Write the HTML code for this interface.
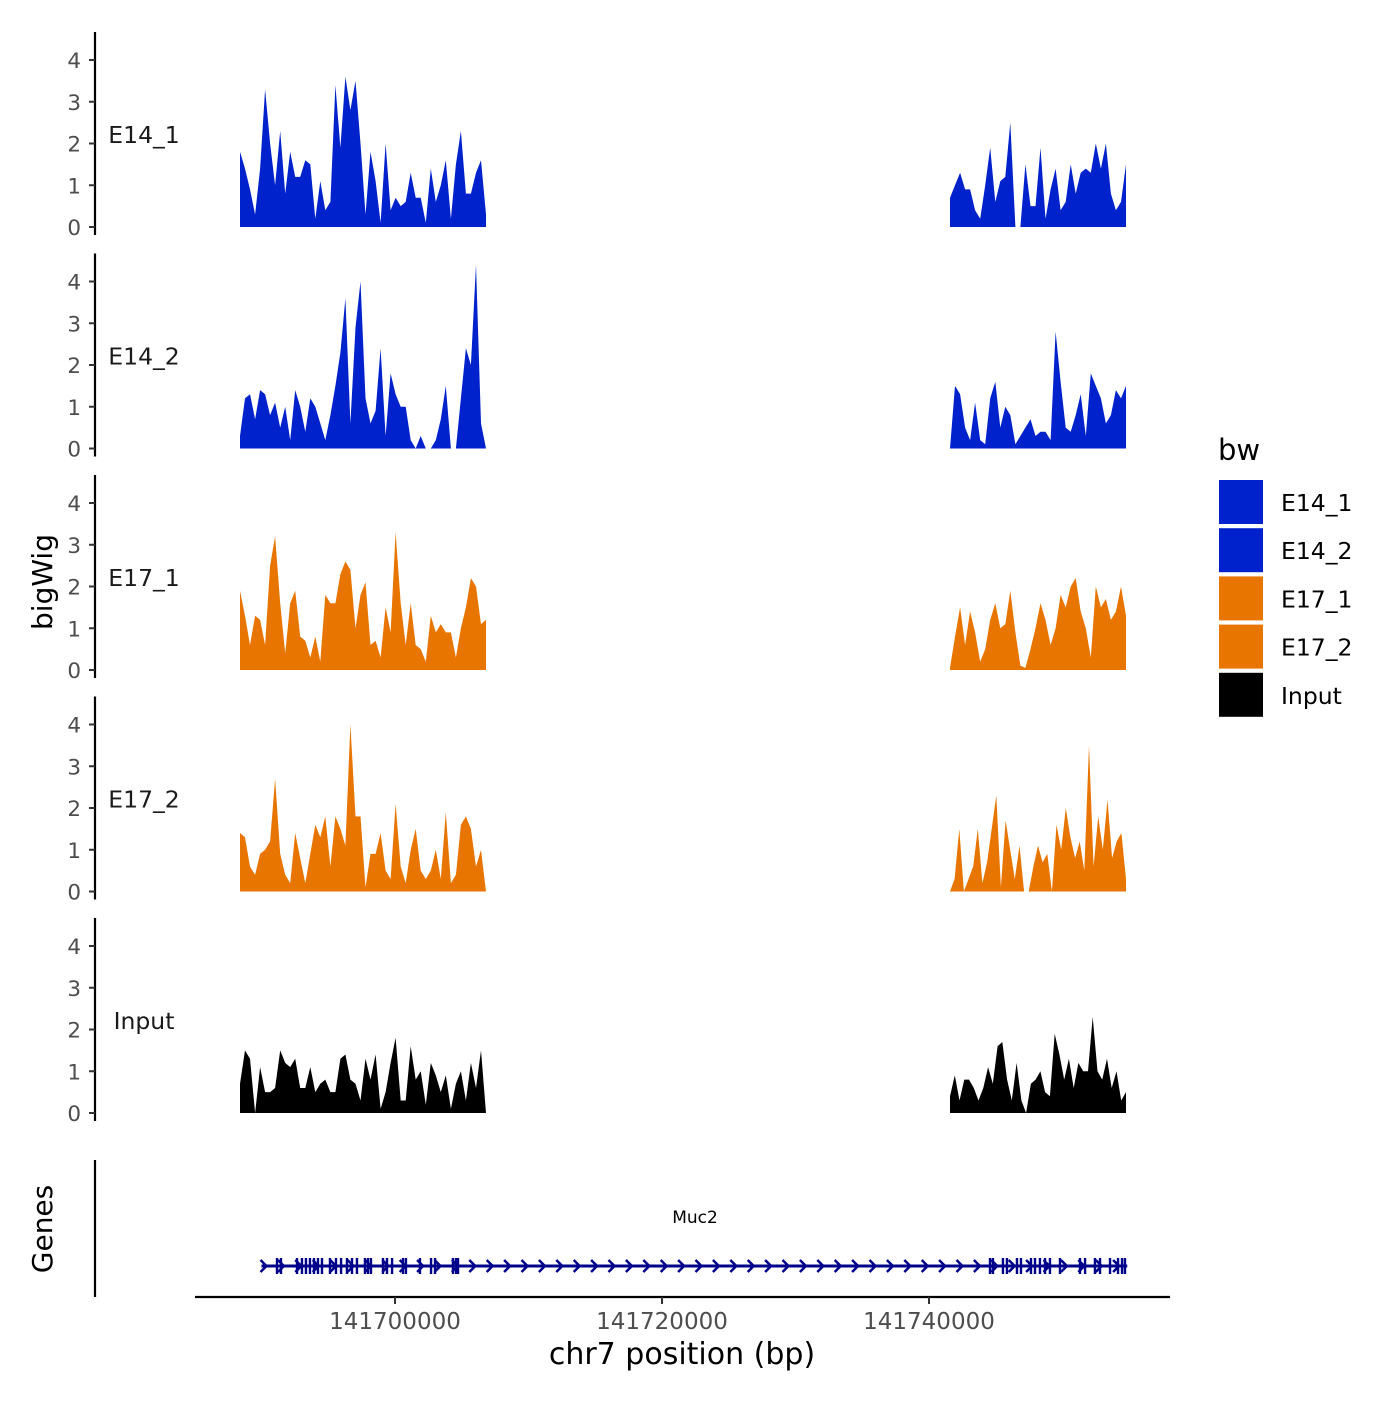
<!DOCTYPE html>
<html><head><meta charset="utf-8"><style>
html,body{margin:0;padding:0;background:#fff;}
svg text{font-family:"DejaVu Sans","Liberation Sans",sans-serif;}
</style></head><body>
<svg id="chart" width="1400" height="1400" xmlns="http://www.w3.org/2000/svg"></svg>
<script>
const trackNames = ["E14_1","E14_2","E17_1","E17_2","Input"];
const trackColors = ["#0022cc","#0022cc","#e87500","#e87500","#000000"];
const leftRange = [141688390, 141706816];
const rightRange = [141741573, 141754757];
const e14_1Left = [1.8,1.4,0.9,0.3,1.4,3.3,2.0,1.0,2.3,0.8,1.8,1.2,1.2,1.6,1.5,0.2,1.1,0.4,0.6,3.4,1.9,3.6,2.8,3.5,2.0,0.3,1.8,1.1,0.1,2.0,0.4,0.7,0.5,0.6,1.3,0.7,0.7,0.1,1.4,0.6,1.0,1.6,0.2,1.5,2.3,0.8,0.8,1.3,1.6,0.3];
const e14_1Right = [0.7,1.0,1.3,0.9,0.9,0.4,0.2,1.0,1.9,0.6,1.1,1.2,2.5,0.0,0.0,1.5,0.5,0.5,1.9,0.2,0.9,1.4,0.4,0.6,1.5,0.8,1.3,1.4,1.3,2.0,1.4,2.0,0.8,0.4,0.6,1.5];
const e14_2Left = [0.3,1.2,1.3,0.7,1.4,1.3,0.8,1.1,0.5,1.0,0.2,1.4,1.0,0.4,1.2,1.0,0.6,0.2,0.8,1.5,2.3,3.6,0.6,2.9,4.0,1.2,0.6,0.9,2.4,0.3,1.8,1.3,1.0,1.0,0.2,0,0.3,0,0,0.2,0.7,1.5,0,0,1.2,2.4,2.0,4.4,0.6,0];
const e14_2Right = [0.0,1.5,1.3,0.5,0.2,1.1,0.2,0.1,1.2,1.6,0.5,1.0,0.8,0.1,0.3,0.5,0.7,0.3,0.4,0.4,0.2,2.8,1.6,0.5,0.4,0.8,1.3,0.3,1.8,1.5,1.2,0.6,0.8,1.4,1.2,1.5];
const e17_1Left = [1.9,1.3,0.6,1.3,1.2,0.6,2.5,3.2,1.6,0.4,1.6,1.9,0.8,0.7,0.3,0.8,0.2,1.8,1.6,1.6,2.3,2.6,2.4,1.0,1.8,2.1,0.6,0.7,0.3,1.5,0.9,3.3,1.6,0.6,1.6,0.6,0.5,0.2,1.3,0.9,1.1,0.9,0.9,0.3,1.0,1.5,2.2,2.0,1.1,1.2];
const e17_1Right = [0.05,0.8,1.5,0.6,1.4,0.9,0.2,0.5,1.2,1.6,1.0,1.1,1.9,0.9,0.1,0.05,0.5,1.0,1.6,1.2,0.6,1.0,1.8,1.5,2.0,2.2,1.4,1.0,0.3,2.0,1.5,1.7,1.2,1.4,2.0,1.3];
const e17_2Left = [1.4,1.3,0.6,0.4,0.9,1.0,1.2,2.7,0.9,0.4,0.2,1.4,0.8,0.2,0.9,1.6,1.3,1.8,0.6,1.8,1.5,1.1,4.0,1.8,1.8,0.1,0.9,0.9,1.4,0.5,0.3,2.1,0.6,0.2,1.0,1.5,0.5,0.3,0.5,1.0,0.3,1.9,0.2,0.4,1.6,1.8,1.5,0.6,1.0,0];
const e17_2Right = [0,0.3,1.5,0,0.3,0.6,1.5,0.2,0.7,1.5,2.3,0.1,1.7,1.0,0.3,1.1,0,0,0.6,1.1,0.7,0.9,0,1.6,1.0,2.0,1.3,0.8,1.2,0.5,3.5,0.6,1.8,1.0,2.2,0.8,1.2,1.4,0.3];
const inputLeft = [0.7,1.5,1.3,0.0,1.1,0.5,0.5,0.6,1.5,1.2,1.1,1.3,0.6,0.6,1.1,0.5,0.7,0.8,0.5,0.5,1.3,1.4,0.8,0.7,0.3,1.3,0.8,1.4,0.1,0.5,1.2,1.8,0.3,0.3,1.6,0.8,1.0,0.2,1.2,0.9,0.5,0.9,0.1,0.7,1.0,0.3,1.2,0.6,1.5,0];
const inputRight = [0.4,0.9,0.3,0.8,0.8,0.6,0.3,0.6,1.1,0.7,1.6,1.7,0.8,0.3,1.2,0.3,0,0.7,0.8,1.0,0.5,0.4,1.9,1.4,0.8,1.3,0.6,1.2,1.0,1.0,2.3,1.0,0.8,1.3,0.6,1.0,0.3,0.5];
const yTicks = [0,1,2,3,4];
const xTicks = [141700000,141720000,141740000];
const geneRange = [141690000, 141754850];
const exonKb = [-8.84,-8.54,-7.34,-6.97,-6.67,-6.37,-6.07,-5.77,-5.47,-4.87,-4.42,-4.04,-3.6,-3.22,-2.85,-2.25,-2.02,-1.8,-0.9,-0.6,-0.22,0.6,0.82,1.87,2.7,3.0,4.34,4.57,4.72,44.57,44.79,45.54,45.84,46.59,46.89,47.64,47.94,48.31,48.69,49.06,49.81,51.31,51.69,52.43,52.81,53.56,54.16,54.46,54.68];

const leftData = [e14_1Left,e14_2Left,e17_1Left,e17_2Left,inputLeft];
const rightData = [e14_1Right,e14_2Right,e17_1Right,e17_2Right,inputRight];

const svg = document.getElementById('chart');
const NS = 'http://www.w3.org/2000/svg';
function mk(tag, attrs, parent){const e=document.createElementNS(NS,tag);for(const k in attrs)e.setAttribute(k,attrs[k]);(parent||svg).appendChild(e);return e;}
const xScale = bp => 395 + (bp - 141700000) * 0.01335;
const baseY = i => 227 + i * 221.5;
const yScale = (i, v) => baseY(i) - v * 41.75;

for (let i = 0; i < 5; i++) {
  const g = mk('g', {});
  
  
  const ax = mk('line', {x1:95,x2:95,y1:baseY(i)-195,y2:baseY(i)+8,stroke:'#000','stroke-width':2.2}, g);
  
  
  yTicks.forEach(t => {
    const y = yScale(i, t);
    const tk = mk('line', {x1:89,x2:95,y1:y,y2:y,stroke:'#333','stroke-width':2}, g);
    
    
    const tl = mk('text', {x:81,y:y+8,'text-anchor':'end','font-size':21.5,fill:'#4d4d4d'}, g);
    tl.textContent = t;
    
    
  });
  const lab = mk('text', {x:144,y:yScale(i,2.2)+8,'text-anchor':'middle','font-size':23.5,fill:'#1a1a1a'}, g);
  lab.textContent = trackNames[i];
  
  
  [[leftData[i], leftRange],[rightData[i], rightRange]].forEach(([vals, rng]) => {
    const n = vals.length;
    let pts = [];
    pts.push(xScale(rng[0]) + ',' + baseY(i));
    vals.forEach((v, k) => {
      const bp = rng[0] + (rng[1] - rng[0]) * k / (n - 1);
      pts.push(xScale(bp).toFixed(1) + ',' + yScale(i, v).toFixed(1));
    });
    pts.push(xScale(rng[1]) + ',' + baseY(i));
    const p = mk('polygon', {points: pts.join(' '), fill: trackColors[i]}, g);
    
    
  });
}

const yt = mk('text', {x:0,y:0,transform:'translate(52,582) rotate(-90)','text-anchor':'middle','font-size':28,fill:'#000'});
yt.textContent = 'bigWig';



const gax = mk('line', {x1:95,x2:95,y1:1160,y2:1297,stroke:'#000','stroke-width':2.2});


const gt = mk('text', {x:0,y:0,transform:'translate(52,1229) rotate(-90)','text-anchor':'middle','font-size':28,fill:'#000'});
gt.textContent = 'Genes';


const gy = 1266;
const gl = mk('line', {x1:xScale(geneRange[0]),x2:xScale(geneRange[1]),y1:gy,y2:gy,stroke:'#00008b','stroke-width':3});


for (let x = xScale(geneRange[0]) + 2; x < xScale(geneRange[1]); x += 17.4) {
  const a = mk('polyline', {points:`${x-3},${gy-6} ${x+3},${gy} ${x-3},${gy+6}`,fill:'none',stroke:'#00008b','stroke-width':2.5});
  
  
}
exonKb.forEach(k => {
  const x = xScale(141700000 + k * 1000);
  const r = mk('rect', {x:x-1.2,y:gy-8,width:2.4,height:16,fill:'#00008b'});
  
  
});
const gn = mk('text', {x:695,y:1223,'text-anchor':'middle','font-size':17,fill:'#000'});
gn.textContent = 'Muc2';



const xa = mk('line', {x1:195,x2:1170,y1:1297,y2:1297,stroke:'#000','stroke-width':2.2});


xTicks.forEach(t => {
  const x = xScale(t);
  const tk = mk('line', {x1:x,x2:x,y1:1297,y2:1304,stroke:'#333','stroke-width':2});
  
  
  const tl = mk('text', {x:x,y:1329,'text-anchor':'middle','font-size':23,fill:'#4d4d4d'});
  tl.textContent = t;
  
  
});
const xt = mk('text', {x:682,y:1364,'text-anchor':'middle','font-size':30,fill:'#000'});
xt.textContent = 'chr7 position (bp)';



const lg = mk('g', {});


const ltt = mk('text', {x:1218,y:460,'font-size':29,fill:'#000'}, lg);
ltt.textContent = 'bw';


trackNames.forEach((n, i) => {
  const y = 480 + i * 48.2;
  const r = mk('rect', {x:1219,y:y,width:44,height:44,fill:trackColors[i]}, lg);
  
  
  const t = mk('text', {x:1281,y:y+31,'font-size':23.5,fill:'#000'}, lg);
  t.textContent = n;
  
  
});
</script>
</body></html>
